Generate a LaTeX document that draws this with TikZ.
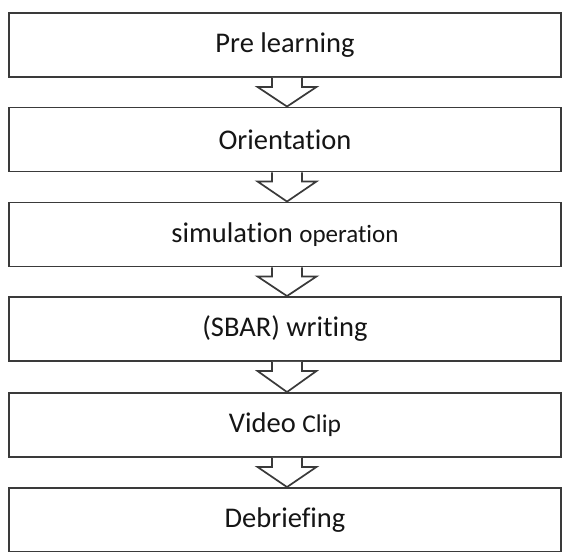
\documentclass[tikz,border=0pt]{standalone}
\usepackage{fontspec}
\setmainfont[Ligatures={NoCommon}]{Carlito}
\usetikzlibrary{calc}
\definecolor{boxline}{HTML}{3A3A3A}
\definecolor{textcol}{HTML}{151515}
\newcommand\flowarrow[2]{%
  \coordinate (tl) at ($(#1.south)+(-13,0)$);
  \coordinate (tr) at ($(#1.south)+(17,0)$);
  \coordinate (tip) at ($(#2.north)+(2,0)$);
  \fill[white] (tl) -- ++(0,9) -- ++(-14.5,0) -- (tip) -- ($(tr)+(14.5,9)$) -- ($(tr)+(0,9)$) -- (tr) -- cycle;
  \draw[arrowline] (tl) -- ++(0,9) -- ++(-14.5,0) -- (tip) -- ($(tr)+(14.5,9)$) -- ($(tr)+(0,9)$) -- (tr);
}
\begin{document}
\begin{tikzpicture}[x=1pt,y=-1pt,
  stepbox/.style={draw=boxline, line width=1.9pt, fill=white, minimum width=552pt,
    minimum height=64pt, inner sep=0pt, font=\fontsize{28.5}{32}\selectfont, text=textcol},
  arrowline/.style={draw=boxline, line width=1.7pt, line join=miter}]
\useasboundingbox (0,0) rectangle (563,552);
\node[stepbox] (b1) at (285,45) {Pre learning};
\node[stepbox] (b2) at (285,139.5) {Orientation};
\node[stepbox] (b3) at (285,234.5) {simulation {\fontsize{25}{28}\selectfont operation}};
\node[stepbox] (b4) at (285,329) {(SBAR) writing};
\node[stepbox] (b5) at (285,425) {Video {\fontsize{25.5}{28}\selectfont Clip}};
\node[stepbox] (b6) at (285,520) {Debriefing};
\flowarrow{b1}{b2}
\flowarrow{b2}{b3}
\flowarrow{b3}{b4}
\flowarrow{b4}{b5}
\flowarrow{b5}{b6}
\end{tikzpicture}
\end{document}
